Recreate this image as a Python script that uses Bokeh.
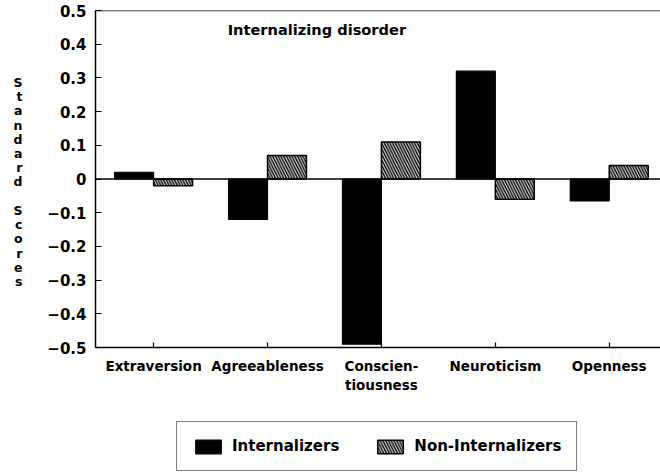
from bokeh.plotting import figure
from bokeh.models import (Range1d, FixedTicker, Span, Label, Legend, LegendItem, LinearAxis)
from bokeh.layouts import column
from bokeh.embed import file_html
from bokeh.resources import INLINE

# ---- data ----
categories = ["Extraversion", "Agreeableness", "Conscientiousness", "Neuroticism", "Openness"]
category_labels = ["Extraversion", "Agreeableness", "Conscien-\ntiousness", "Neuroticism", "Openness"]
internalizers = [0.02, -0.12, -0.49, 0.32, -0.065]
non_internalizers = [-0.02, 0.07, 0.11, -0.06, 0.04]
y_ticks = [0.5, 0.4, 0.3, 0.2, 0.1, 0.0, -0.1, -0.2, -0.3, -0.4, -0.5]
y_tick_labels = ["0.5", "0.4", "0.3", "0.2", "0.1", "0", "\u22120.1", "\u22120.2", "\u22120.3", "\u22120.4", "\u22120.5"]
title_text = "Internalizing disorder"
ylabel_words = ["Standard", "Scores"]
series_names = ["Internalizers", "Non-Internalizers"]

FONT = "DejaVu Sans"
BAR_W = 0.342
TOP, BOTTOM = 10, 347
LEFT = 95
MAIN_H = 420
LEG_H = 52

positions = list(range(1, len(categories) + 1))
x_black = [p - BAR_W / 2 for p in positions]
x_hatch = [p + BAR_W / 2 for p in positions]

BLACK_STYLE = dict(fill_color="black", line_color="black", line_width=1.2)
HATCH_STYLE = dict(fill_color="white", line_color="black", line_width=1.5,
                   hatch_pattern="\\", hatch_color="black", hatch_scale=5.5, hatch_weight=1.5)

p = figure(width=660, height=MAIN_H, output_backend="svg", toolbar_location=None,
           x_range=Range1d(0.49, 5.45), y_range=Range1d(-0.5, 0.5),
           min_border_left=LEFT, min_border_right=0, min_border_top=TOP,
           min_border_bottom=MAIN_H - BOTTOM)
p.outline_line_color = None
p.xgrid.visible = False
p.ygrid.visible = False
p.background_fill_color = "white"
p.border_fill_color = "white"

p.vbar(x=x_black, width=BAR_W, top=internalizers, bottom=0, **BLACK_STYLE)
p.vbar(x=x_hatch, width=BAR_W, top=non_internalizers, bottom=0, **HATCH_STYLE)

# zero line and top border
p.add_layout(Span(location=0, dimension="width", line_color="black", line_width=1.5))
p.add_layout(Span(location=0.5, dimension="width", line_color="black", line_width=1.5))

# y axis
ya = p.yaxis[0]
ya.ticker = FixedTicker(ticks=y_ticks)
ya.major_label_overrides = dict(zip(y_ticks, y_tick_labels))
ya.major_tick_in = 6
ya.major_tick_out = 0
ya.minor_tick_line_color = None
ya.axis_line_width = 1.5
ya.axis_line_color = "black"
ya.major_tick_line_width = 1.2
ya.major_label_standoff = 9
ya.major_label_text_font = FONT
ya.major_label_text_font_style = "bold"
ya.major_label_text_font_size = "15px"
ya.major_label_text_color = "black"

# x axis
xa = p.xaxis[0]
xa.ticker = FixedTicker(ticks=positions)
xa.major_label_overrides = dict(zip(positions, category_labels))
xa.major_tick_in = 5
xa.major_tick_out = 0
xa.minor_tick_line_color = None
xa.axis_line_width = 1.5
xa.axis_line_color = "black"
xa.major_tick_line_width = 1.2
xa.major_label_standoff = 10
xa.major_label_text_font = FONT
xa.major_label_text_font_style = "bold"
xa.major_label_text_font_size = "13.5px"
xa.major_label_text_color = "black"

# stacked y-axis title: letters drawn as labels of an outer, line-less axis
def ydata(img_y):
    return 0.5 - (img_y - TOP) / float(BOTTOM - TOP)

starts = [82, 210]
letter_pos, letter_txt = [], []
for word, start in zip(ylabel_words, starts):
    for i, ch in enumerate(word):
        letter_pos.append(ydata(start + 14.2 * i))
        letter_txt.append(ch)
la = LinearAxis(ticker=FixedTicker(ticks=letter_pos))
la.major_label_overrides = dict(zip(letter_pos, letter_txt))
la.axis_line_color = None
la.major_tick_line_color = None
la.minor_tick_line_color = None
la.major_tick_in = 0
la.major_tick_out = 0
la.major_label_standoff = 22
la.major_label_text_font = FONT
la.major_label_text_font_style = "bold"
la.major_label_text_font_size = "12.5px"
la.major_label_text_color = "black"
la.major_label_text_align = "center"
p.add_layout(la, "left")

# title inside plot
p.add_layout(Label(x=1.65, y=ydata(29), text=title_text, text_font=FONT,
                   text_font_style="bold", text_font_size="14.6px",
                   text_baseline="middle", text_align="left", text_color="black"))

# ---- legend strip below the chart ----
lg = figure(width=660, height=LEG_H, output_backend="svg", toolbar_location=None,
            x_range=Range1d(0, 10), y_range=Range1d(0, 10),
            min_border_left=LEFT, min_border_right=0, min_border_top=0, min_border_bottom=0)
lg.axis.visible = False
lg.grid.visible = False
lg.outline_line_color = None
lg.background_fill_color = "white"
lg.border_fill_color = "white"
# swatch renderers: one point each, placed far outside the visible range
e1 = lg.vbar(x=[-100], width=1, top=[-100], bottom=-101, **BLACK_STYLE)
e2 = lg.vbar(x=[-100], width=1, top=[-100], bottom=-101, **HATCH_STYLE)

legend = Legend(items=[LegendItem(label=series_names[0], renderers=[e1]),
                       LegendItem(label=series_names[1], renderers=[e2])],
                orientation="horizontal", location=(176 - LEFT, 1))
legend.border_line_color = "black"
legend.border_line_width = 1.5
legend.background_fill_color = "white"
legend.background_fill_alpha = 1.0
legend.padding = 15
legend.margin = 0
legend.spacing = 35
legend.glyph_width = 32
legend.glyph_height = 17
legend.label_standoff = 8
legend.label_text_font = FONT
legend.label_text_font_style = "bold"
legend.label_text_font_size = "15px"
legend.label_text_color = "black"
lg.add_layout(legend, "center")

layout = column(p, lg, spacing=0)
open("out.html", "w").write(file_html(layout, INLINE))
